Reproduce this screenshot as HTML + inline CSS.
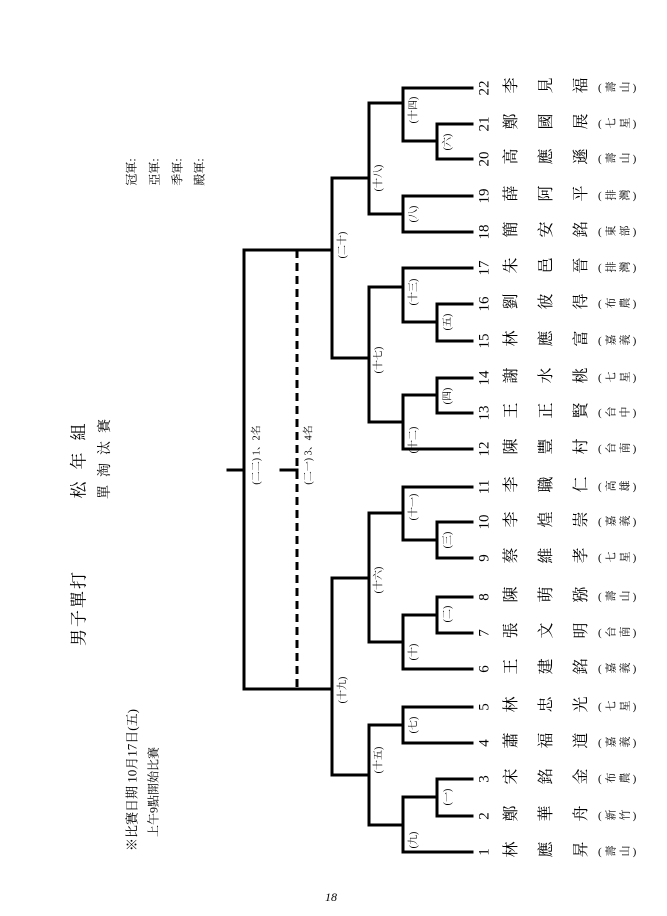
<!DOCTYPE html>
<html><head><meta charset="utf-8"><style>
body{margin:0;width:667px;height:916px;background:#fff;position:relative;overflow:hidden;font-family:"Liberation Serif","Noto Serif CJK SC","Noto Sans CJK TC",serif;color:#000}
svg{position:absolute;left:0;top:0}
.r{position:absolute;left:477px;writing-mode:vertical-rl;transform-origin:0 0;transform:rotate(-90deg);width:20px;line-height:20px;white-space:nowrap}
.n{display:inline-block;height:25px;font-size:15px;text-combine-upright:all}
.nm{display:inline-block;height:96px;font-size:16px;letter-spacing:19px}
.rg{display:inline-block;font-size:11px;letter-spacing:3px}
.v{position:absolute;transform:translate(-50%,-50%) rotate(-90deg);white-space:nowrap;font-size:10px}
.t{font-size:16px}
</style></head><body>
<svg width="667" height="916" fill="none" stroke="#000" stroke-width="3" stroke-linecap="square">
<path d="M403 88H472M437 124H472M437 159H472M403 196H472M403 232H472M403 268H472M437 304H472M437 341H472M437 378H472M437 413H472M403 449H472M403 487H472M437 522H472M437 558H472M437 597H472M437 633H472M403 669H472M403 707H472M403 743H472M437 779H472M437 816H472M403 852H472"/>
<path d="M437 124V159M403 141H437M437 304V341M403 322H437M437 378V413M403 395H437M437 522V558M403 540H437M437 597V633M403 615H437M437 779V816M403 797H437"/>
<path d="M403 88V141M369 103H403M403 196V232M369 214H403M403 268V322M369 287H403M403 395V449M369 422H403M403 487V540M369 513H403M403 615V669M369 642H403M403 707V743M369 725H403M403 797V852M369 825H403"/>
<path d="M369 103V214M332 178H369M369 287V422M332 358H369M369 513V642M332 578H369M369 725V825M332 775H369"/>
<path d="M332 178V358M332 578V775M244 250H332M244 689H332M244 250V689M228 470H244M281 470H297"/>
<path d="M297 250V689" stroke-dasharray="8 5" stroke-linecap="butt"/>
</svg>
<div class="r" style="top:98px"><span class="n">22</span><span class="nm">李見福</span><span class="rg">(壽山)</span></div>
<div class="r" style="top:134px"><span class="n">21</span><span class="nm">鄭國展</span><span class="rg">(七星)</span></div>
<div class="r" style="top:169px"><span class="n">20</span><span class="nm">高應遜</span><span class="rg">(壽山)</span></div>
<div class="r" style="top:206px"><span class="n">19</span><span class="nm">薛阿平</span><span class="rg">(排灣)</span></div>
<div class="r" style="top:242px"><span class="n">18</span><span class="nm">簡安銘</span><span class="rg">(東部)</span></div>
<div class="r" style="top:278px"><span class="n">17</span><span class="nm">朱邑晉</span><span class="rg">(排灣)</span></div>
<div class="r" style="top:314px"><span class="n">16</span><span class="nm">劉彼得</span><span class="rg">(布農)</span></div>
<div class="r" style="top:351px"><span class="n">15</span><span class="nm">林應富</span><span class="rg">(嘉義)</span></div>
<div class="r" style="top:388px"><span class="n">14</span><span class="nm">謝水桃</span><span class="rg">(七星)</span></div>
<div class="r" style="top:423px"><span class="n">13</span><span class="nm">王正賢</span><span class="rg">(台中)</span></div>
<div class="r" style="top:459px"><span class="n">12</span><span class="nm">陳豐村</span><span class="rg">(台南)</span></div>
<div class="r" style="top:497px"><span class="n">11</span><span class="nm">李職仁</span><span class="rg">(高雄)</span></div>
<div class="r" style="top:532px"><span class="n">10</span><span class="nm">李煌崇</span><span class="rg">(嘉義)</span></div>
<div class="r" style="top:568px"><span class="n">9</span><span class="nm">蔡維孝</span><span class="rg">(七星)</span></div>
<div class="r" style="top:607px"><span class="n">8</span><span class="nm">陳萌猕</span><span class="rg">(壽山)</span></div>
<div class="r" style="top:643px"><span class="n">7</span><span class="nm">張文明</span><span class="rg">(台南)</span></div>
<div class="r" style="top:679px"><span class="n">6</span><span class="nm">王建銘</span><span class="rg">(嘉義)</span></div>
<div class="r" style="top:717px"><span class="n">5</span><span class="nm">林忠光</span><span class="rg">(七星)</span></div>
<div class="r" style="top:753px"><span class="n">4</span><span class="nm">蕭福道</span><span class="rg">(嘉義)</span></div>
<div class="r" style="top:789px"><span class="n">3</span><span class="nm">宋銘金</span><span class="rg">(布農)</span></div>
<div class="r" style="top:826px"><span class="n">2</span><span class="nm">鄭華舟</span><span class="rg">(新竹)</span></div>
<div class="r" style="top:862px"><span class="n">1</span><span class="nm">林應昇</span><span class="rg">(壽山)</span></div>
<div class="v" style="left:412px;top:110px">(十四)</div>
<div class="v" style="left:446px;top:142px">(六)</div>
<div class="v" style="left:412px;top:214px">(八)</div>
<div class="v" style="left:377px;top:178px">(十八)</div>
<div class="v" style="left:412px;top:292px">(十三)</div>
<div class="v" style="left:446px;top:322px">(五)</div>
<div class="v" style="left:341px;top:245px">(二十)</div>
<div class="v" style="left:377px;top:360px">(十七)</div>
<div class="v" style="left:446px;top:396px">(四)</div>
<div class="v" style="left:412px;top:440px">(十二)</div>
<div class="v" style="left:412px;top:507px">(十一)</div>
<div class="v" style="left:446px;top:540px">(三)</div>
<div class="v" style="left:377px;top:580px">(十六)</div>
<div class="v" style="left:446px;top:614px">(二)</div>
<div class="v" style="left:412px;top:652px">(十)</div>
<div class="v" style="left:341px;top:690px">(十九)</div>
<div class="v" style="left:412px;top:725px">(七)</div>
<div class="v" style="left:377px;top:760px">(十五)</div>
<div class="v" style="left:446px;top:797px">(一)</div>
<div class="v" style="left:412px;top:840px">(九)</div>
<div class="v" style="left:255px;top:455px">(二二) 1、2名</div>
<div class="v" style="left:307px;top:455px">(二一) 3、4名</div>
<div class="v" style="left:131px;top:172px;font-size:12px">冠軍:</div>
<div class="v" style="left:154px;top:172px;font-size:12px">亞軍:</div>
<div class="v" style="left:177px;top:172px;font-size:12px">季軍:</div>
<div class="v" style="left:199px;top:172px;font-size:12px">殿軍:</div>
<div class="v t" style="left:77px;top:455px;letter-spacing:12px;font-size:17px">松年組</div>
<div class="v" style="left:104px;top:455px;letter-spacing:8px;font-size:14px">單淘汰賽</div>
<div class="v" style="left:77px;top:608px;font-size:17px;letter-spacing:2px">男子單打</div>
<div class="v" style="left:131px;top:780px;font-size:13px">※比賽日期 10月17日(五)</div>
<div class="v" style="left:153px;top:792px;font-size:12px">上午9點開始比賽</div>
<div style="position:absolute;left:325px;top:890px;font-size:12px;font-style:italic">18</div>
</body></html>
